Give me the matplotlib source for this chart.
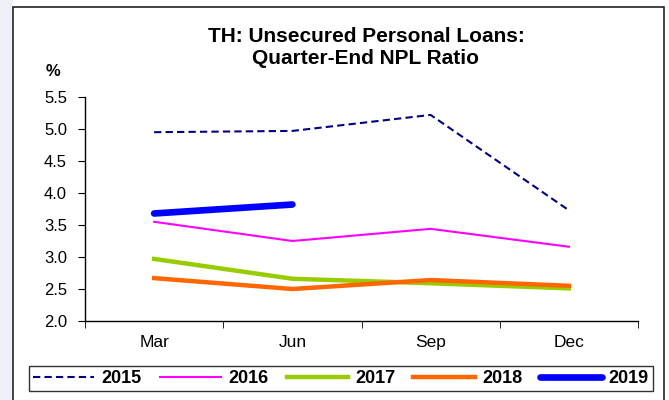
import matplotlib.pyplot as plt
from matplotlib.patches import Rectangle

plt.rcParams['font.family'] = ['Liberation Sans', 'DejaVu Sans']

# data
months = ['Mar', 'Jun', 'Sep', 'Dec']
npl_2015 = [4.95, 4.97, 5.22, 3.73]
npl_2016 = [3.55, 3.25, 3.44, 3.16]
npl_2017 = [2.97, 2.66, 2.59, 2.51]
npl_2018 = [2.67, 2.50, 2.64, 2.55]
npl_2019 = [3.68, 3.82]

fig = plt.figure(figsize=(6.69, 4.0), dpi=100)
fig.patch.set_facecolor('white')

# light strip on left, and the outer chart frame
fig.patches.append(Rectangle((0, 0), 13 / 669, 1, transform=fig.transFigure,
                             facecolor='#eef0f8', edgecolor='none', zorder=-2))
fig.patches.append(Rectangle((13 / 669, -0.05), 651 / 669, 1.05 - 7 / 400,
                             transform=fig.transFigure, facecolor='white',
                             edgecolor='#222222', lw=1.2, zorder=-1))

ax = fig.add_axes([85 / 669, 1 - 321 / 400, (638 - 85) / 669, (321 - 97) / 400])
ax.set_facecolor('none')
ax.set_zorder(2)

x = list(range(len(months)))
ax.plot(x, npl_2015, color='#000080', lw=1.5, ls=(0, (3.5, 2.0)), label='2015')
ax.plot(x, npl_2016, color='#ff00ff', lw=1.5, label='2016')
ax.plot(x, npl_2017, color='#99cc00', lw=3.2, label='2017')
ax.plot(x, npl_2018, color='#ff6600', lw=3.2, label='2018')
ax.plot(x[:len(npl_2019)], npl_2019, color='#0000ff', lw=4.8,
        solid_capstyle='round', label='2019')

ax.set_xlim(-0.5, 3.5)
ax.set_ylim(2.0, 5.5)
ax.set_yticks([2.0, 2.5, 3.0, 3.5, 4.0, 4.5, 5.0, 5.5])
ax.set_yticklabels(['%.1f' % v for v in ax.get_yticks()], fontsize=12)
ax.set_xticks(x)
ax.set_xticklabels(months, fontsize=12.5)
ax.set_xticks([-0.5, 0.5, 1.5, 2.5, 3.5], minor=True)
ax.tick_params(axis='x', which='major', length=0, pad=10)
ax.tick_params(axis='x', which='minor', length=5, direction='out')
ax.tick_params(axis='y', length=5, direction='out', pad=8)

for s in ['top', 'right']:
    ax.spines[s].set_visible(False)
for s in ['left', 'bottom']:
    ax.spines[s].set_linewidth(1.0)
    ax.spines[s].set_color('black')

fig.text(366 / 669, 1 - 47 / 400, 'TH: Unsecured Personal Loans:\nQuarter-End NPL Ratio',
         ha='center', va='center', fontsize=15, fontweight='bold', linespacing=1.2)
fig.text(53 / 669, 1 - 72 / 400, '%', ha='center', va='center',
         fontsize=12, fontweight='bold')

leg = fig.legend(loc='center', bbox_to_anchor=(341 / 669, 1 - 378.5 / 400), ncol=5,
                 frameon=True, fancybox=False, edgecolor='black',
                 prop={'weight': 'bold', 'size': 13}, handlelength=3.4,
                 columnspacing=1.0, handletextpad=0.4, borderpad=0.2)
leg.get_frame().set_linewidth(1.0)

fig.savefig('out.png', dpi=100)
